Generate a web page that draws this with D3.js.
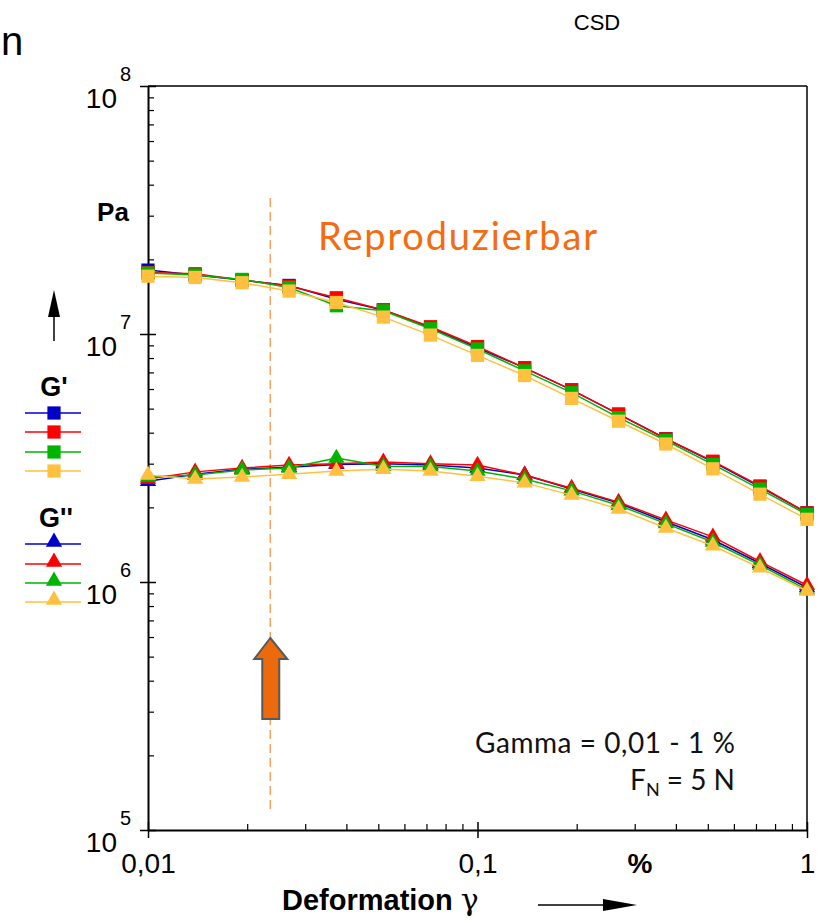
<!DOCTYPE html>
<html>
<head>
<meta charset="utf-8">
<script src="https://cdn.jsdelivr.net/npm/d3@7"></script>
<style>
  html, body { margin: 0; padding: 0; background: #fff; }
  svg { display: block; }
  .ax text { font-family: "Liberation Sans", Arial, sans-serif; }
</style>
</head>
<body>
<svg id="chart" width="823" height="923"></svg>
<script>
// ---------------- data ----------------
const strain = [0.01, 0.0139, 0.0193, 0.0268, 0.0373, 0.0518, 0.0720, 0.1, 0.139, 0.193, 0.268, 0.373, 0.518, 0.720, 1.0];

const gPrimeBlue   = [1.81e7, 1.73e7, 1.65e7, 1.57e7, 1.38e7, 1.25e7, 1.06e7, 8.8e6, 7.3e6, 5.95e6, 4.75e6, 3.78e6, 3.05e6, 2.42e6, 1.90e6];
const gPrimeRed    = [1.77e7, 1.75e7, 1.65e7, 1.56e7, 1.40e7, 1.25e7, 1.07e7, 8.9e6, 7.3e6, 5.95e6, 4.75e6, 3.78e6, 3.07e6, 2.44e6, 1.90e6];
const gPrimeGreen  = [1.76e7, 1.73e7, 1.66e7, 1.54e7, 1.30e7, 1.24e7, 1.05e7, 8.7e6, 7.1e6, 5.8e6, 4.6e6, 3.72e6, 2.98e6, 2.37e6, 1.87e6];
const gPrimeOrange = [1.71e7, 1.69e7, 1.61e7, 1.49e7, 1.34e7, 1.17e7, 9.9e6, 8.2e6, 6.8e6, 5.5e6, 4.45e6, 3.6e6, 2.86e6, 2.26e6, 1.79e6];

const gDoubleBlue   = [2.55e6, 2.72e6, 2.85e6, 2.90e6, 2.98e6, 3.00e6, 2.96e6, 2.88e6, 2.70e6, 2.37e6, 2.08e6, 1.75e6, 1.48e6, 1.19e6, 9.5e5];
const gDoubleRed    = [2.60e6, 2.78e6, 2.88e6, 2.96e6, 3.00e6, 3.05e6, 3.00e6, 2.96e6, 2.70e6, 2.39e6, 2.10e6, 1.78e6, 1.52e6, 1.21e6, 9.7e5];
const gDoubleGreen  = [2.65e6, 2.70e6, 2.83e6, 2.88e6, 3.16e6, 2.93e6, 2.92e6, 2.80e6, 2.60e6, 2.33e6, 2.04e6, 1.72e6, 1.45e6, 1.17e6, 9.3e5];
const gDoubleOrange = [2.70e6, 2.60e6, 2.65e6, 2.72e6, 2.80e6, 2.85e6, 2.80e6, 2.67e6, 2.51e6, 2.24e6, 1.97e6, 1.65e6, 1.40e6, 1.14e6, 9.2e5];

const seriesColors = ["#0000c8", "#ff0000", "#00b400", "#ffc040"];
const gPrimeSeries = [gPrimeBlue, gPrimeRed, gPrimeGreen, gPrimeOrange];
const gDoubleSeries = [gDoubleBlue, gDoubleRed, gDoubleGreen, gDoubleOrange];

const xMajorTicks = [0.01, 0.1, 1];
const xTickLabels = ["0,01", "0,1", "1"];
const yMajorExponents = [5, 6, 7, 8];
const markerStrain = 0.0235;   // dashed "Reproduzierbar" line position
const annotTitle = "Reproduzierbar";
const annotGamma = "Gamma = 0,01 - 1 %";

// ---------------- layout ----------------
const svg = d3.select("#chart");
const x = d3.scaleLog().domain([0.01, 1]).range([148, 807]);
const y = d3.scaleLog().domain([1e5, 1e8]).range([830, 86]);
const X0 = 148, X1 = 807, Y0 = 830, Y1 = 86;

// frame: top & right borders
svg.append("line").attr("x1", X0).attr("x2", X1).attr("y1", Y1).attr("y2", Y1)
  .attr("stroke", "#000").attr("stroke-width", 1.5);
svg.append("line").attr("x1", X1).attr("x2", X1).attr("y1", Y1).attr("y2", Y0)
  .attr("stroke", "#000").attr("stroke-width", 1.5);

// minor ticks
const xMinor = [];
[0.01, 0.1].forEach(d => { for (let k = 2; k <= 9; k++) xMinor.push(d * k); });
const yMinor = [];
[1e5, 1e6, 1e7].forEach(d => { for (let k = 2; k <= 9; k++) yMinor.push(d * k); });

const gxMinor = svg.append("g").attr("class", "ax").attr("transform", `translate(0,${Y0})`)
  .call(d3.axisBottom(x).tickValues(xMinor).tickSize(-6).tickFormat(""));
gxMinor.select(".domain").remove();
gxMinor.selectAll("line").attr("stroke-width", 1.2);

const gyMinor = svg.append("g").attr("class", "ax").attr("transform", `translate(${X0},0)`)
  .call(d3.axisLeft(y).tickValues(yMinor).tickSize(-6).tickFormat(""));
gyMinor.select(".domain").remove();
gyMinor.selectAll("line").attr("stroke-width", 1.2);

// major x axis
const gx = svg.append("g").attr("class", "ax").attr("transform", `translate(0,${Y0})`)
  .call(d3.axisBottom(x).tickValues(xMajorTicks).tickSize(8).tickSizeOuter(0)
    .tickFormat((d, i) => xTickLabels[i]));
gx.select(".domain").attr("stroke-width", 2);
gx.selectAll(".tick line").attr("y1", -8).attr("stroke-width", 1.5);
gx.selectAll(".tick text").attr("y", 43).attr("dy", 0)
  .attr("font-size", 28).attr("fill", "#000");

// major y axis
const gy = svg.append("g").attr("class", "ax").attr("transform", `translate(${X0},0)`)
  .call(d3.axisLeft(y).tickValues(yMajorExponents.map(e => Math.pow(10, e))).tickSize(8).tickSizeOuter(0).tickFormat(""));
gy.select(".domain").attr("stroke-width", 2);
gy.selectAll(".tick line").attr("x1", 8).attr("stroke-width", 1.5);
gy.selectAll(".tick").each(function (d, i) {
  const t = d3.select(this);
  t.append("text").attr("x", -31).attr("y", 21).attr("text-anchor", "end")
    .attr("font-size", 28).attr("fill", "#000").text("10");
  t.append("text").attr("x", -28).attr("y", -6).attr("text-anchor", "start")
    .attr("font-size", 20).attr("fill", "#000").text(yMajorExponents[i]);
});

// ---------------- annotations (behind data) ----------------
svg.append("line").attr("x1", x(markerStrain)).attr("x2", x(markerStrain))
  .attr("y1", 198).attr("y2", 812)
  .attr("stroke", "#f5a064").attr("stroke-width", 1.5).attr("stroke-dasharray", "9,5");

// ---------------- series ----------------
const line = d3.line().x((d, i) => x(strain[i])).y(d => y(d));
const sq = d3.symbol().type(d3.symbolSquare).size(175);
const tri = d3.symbol().type(d3.symbolTriangle).size(115);

function drawSeries(vals, color, sym) {
  const g = svg.append("g");
  g.append("path").datum(vals).attr("d", line).attr("fill", "none")
    .attr("stroke", color).attr("stroke-width", 1.5);
  g.selectAll("path.m").data(vals).join("path").attr("class", "m")
    .attr("transform", (d, i) => `translate(${x(strain[i])},${y(d)})`)
    .attr("d", sym).attr("fill", color);
}
gPrimeSeries.forEach((s, i) => drawSeries(s, seriesColors[i], sq));
gDoubleSeries.forEach((s, i) => drawSeries(s, seriesColors[i], tri));

// ---------------- orange block arrow ----------------
const ax0 = x(markerStrain);
const arrowPts = [[0, 638], [17, 659], [9, 659], [9, 719], [-8, 719], [-8, 659], [-16, 659]];
svg.append("path")
  .attr("d", d3.line()(arrowPts.map(p => [ax0 + p[0], p[1]])) + "Z")
  .attr("fill", "#ec6a0c").attr("stroke", "#595959").attr("stroke-width", 2).attr("stroke-linejoin", "miter");

// ---------------- texts ----------------
svg.append("text").attr("x", 318).attr("y", 250)
  .attr("font-family", "Lato, 'Open Sans', sans-serif").attr("font-size", 38)
  .attr("fill", "#f46b10").attr("textLength", 279).text(annotTitle);

svg.append("text").attr("x", 475).attr("y", 753)
  .attr("font-family", "Lato, 'Open Sans', sans-serif").attr("font-size", 28)
  .attr("textLength", 260).attr("fill", "#111").text(annotGamma);
const fn = svg.append("text").attr("x", 735).attr("y", 790).attr("text-anchor", "end")
  .attr("font-family", "Lato, 'Open Sans', sans-serif").attr("font-size", 28).attr("fill", "#111");
fn.append("tspan").text("F");
fn.append("tspan").attr("font-size", 18).attr("dy", 6).text("N");
fn.append("tspan").attr("dy", -6).text(" = 5 N");

// top texts
svg.append("text").attr("x", 597).attr("y", 30).attr("text-anchor", "middle")
  .attr("font-family", "'Liberation Sans', Arial, sans-serif")
  .attr("font-size", 22).attr("fill", "#000").text("CSD");
svg.append("text").attr("x", 1).attr("y", 55)
  .attr("font-family", "'Liberation Sans', Arial, sans-serif")
  .attr("font-size", 40).attr("fill", "#000").text("n");

// y axis title "Pa" and up arrow
svg.append("text").attr("x", 113).attr("y", 221).attr("text-anchor", "middle")
  .attr("font-family", "'Liberation Sans', Arial, sans-serif").attr("font-weight", "bold")
  .attr("font-size", 26).attr("fill", "#000").text("Pa");
svg.append("line").attr("x1", 54).attr("x2", 54).attr("y1", 341).attr("y2", 305)
  .attr("stroke", "#000").attr("stroke-width", 1.5);
svg.append("path").attr("d", "M54,290 L48,317 L60,317 Z").attr("fill", "#000");

// x axis title, % and arrow
const xt = svg.append("text").attr("x", 282).attr("y", 910)
  .attr("font-family", "'Liberation Sans', Arial, sans-serif").attr("font-weight", "bold")
  .attr("font-size", 29).attr("fill", "#000");
xt.append("tspan").text("Deformation ");
xt.append("tspan").attr("font-family", "'DejaVu Serif', 'Liberation Serif', serif")
  .attr("font-weight", "normal").attr("font-size", 30).text("γ");
svg.append("text").attr("x", 640).attr("y", 873).attr("text-anchor", "middle")
  .attr("font-family", "'Liberation Sans', Arial, sans-serif").attr("font-weight", "bold")
  .attr("font-size", 28).attr("fill", "#000").text("%");
svg.append("line").attr("x1", 538).attr("x2", 610).attr("y1", 905).attr("y2", 905)
  .attr("stroke", "#000").attr("stroke-width", 1.5);
svg.append("path").attr("d", "M637,905 L603,899 L603,911 Z").attr("fill", "#000");

// ---------------- legend ----------------
const legendFont = "'Liberation Sans', Arial, sans-serif";
svg.append("text").attr("x", 54).attr("y", 396).attr("text-anchor", "middle")
  .attr("font-family", legendFont).attr("font-weight", "bold").attr("font-size", 27).text("G'");
svg.append("text").attr("x", 56).attr("y", 527).attr("text-anchor", "middle")
  .attr("font-family", legendFont).attr("font-weight", "bold").attr("font-size", 27).text("G''");

const legPrimeY = [413, 432, 452, 471];
const legDoubleY = [544, 564, 583, 602];
seriesColors.forEach((c, i) => {
  svg.append("line").attr("x1", 25).attr("x2", 81).attr("y1", legPrimeY[i]).attr("y2", legPrimeY[i])
    .attr("stroke", c).attr("stroke-width", 1.6);
  svg.append("path").attr("transform", `translate(54,${legPrimeY[i]})`).attr("d", sq).attr("fill", c);
  svg.append("line").attr("x1", 25).attr("x2", 81).attr("y1", legDoubleY[i]).attr("y2", legDoubleY[i])
    .attr("stroke", c).attr("stroke-width", 1.6);
  svg.append("path").attr("transform", `translate(54,${legDoubleY[i] - 2})`).attr("d", tri).attr("fill", c);
});
</script>
</body>
</html>
